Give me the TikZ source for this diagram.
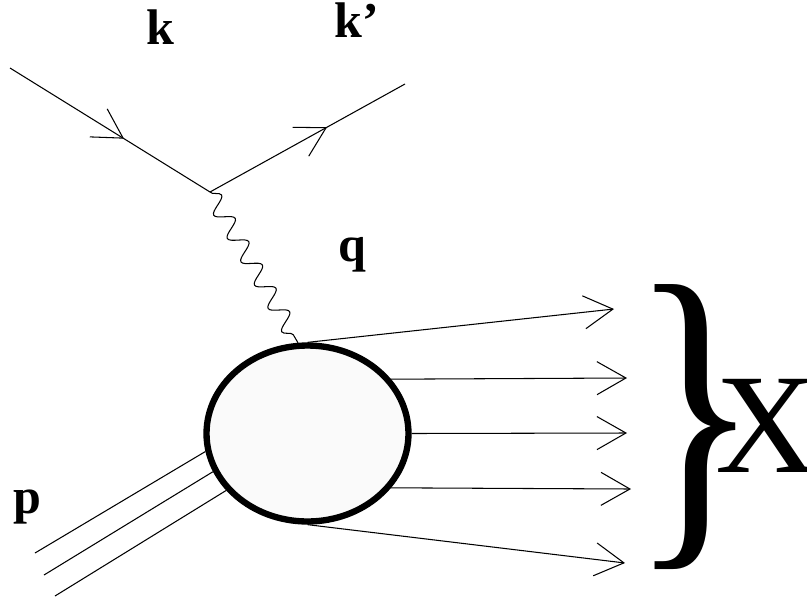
\documentclass[tikz,border=0pt]{standalone}
\usepackage{graphicx}
\usepackage{fontspec}
\setmainfont{Liberation Serif}
\usetikzlibrary{arrows.meta, decorations.markings, decorations.pathmorphing, shapes.geometric}

\begin{document}
\begin{tikzpicture}[x=0.02cm, y=-0.02cm, line width=0.6pt,
  vee/.tip={Straight Barb[length=16.5pt, width=18.8pt]},
  mid arrow/.style={postaction={decorate}, decoration={markings, mark=at position #1 with {\arrow{vee}}}},
  photon/.style={decorate, decoration={snake, segment length=0.54cm, amplitude=0.17cm}},
  lbl/.style={font=\fontsize{28.5}{30}\selectfont\bfseries, inner sep=0pt, anchor=base}]
  \useasboundingbox (0,0) rectangle (807,605);

  % lepton vertex and blob
  \coordinate (v) at (210,192);
  \node[ellipse, draw, line width=3.6pt, fill=black!2, minimum width=4.04cm, minimum height=3.52cm, inner sep=0pt] (blob) at (307.5,433.5) {};

  % electron lines
  \coordinate (kin) at (10,68);
  \coordinate (kout) at (405,84);
  \draw[mid arrow=0.57] (kin) -- (v);
  \draw[mid arrow=0.6] (v) -- (kout);
  \draw[photon] (v) -- (blob.96);

  % proton
  \coordinate (p1) at (35,553);
  \coordinate (p2) at (44,575);
  \coordinate (p3) at (55,596);
  \draw (p1) -- (blob.190);
  \draw (p2) -- (blob.202);
  \draw (p3) -- (blob.215);

  % final state
  \coordinate (x1) at (614,309);
  \coordinate (x2) at (627,378);
  \coordinate (x3) at (627,433);
  \coordinate (x4) at (631,489);
  \coordinate (x5) at (625,563);
  \draw[-vee] (blob.north) -- (x1);
  \draw[-vee] (blob.33) -- (x2);
  \draw[-vee] (blob.east) -- (x3);
  \draw[-vee] (blob.-33) -- (x4);
  \draw[-vee] (blob.south) -- (x5);

  % labels
  \node[lbl] (k) at (160,44) {k};
  \node[lbl] (kp) at (357,37) {k’};
  \node[lbl] (q) at (352,261) {q};
  \node[lbl] (p) at (27,513) {p};
  \node[inner sep=0pt, font=\fontsize{81}{81}\selectfont] (brace) at (695,427) {\scalebox{1.9}[2.42]{\}}};
  \node[inner sep=0pt, anchor=base west, font=\fontsize{81}{81}\selectfont] (X) at (715,472) {X};
\end{tikzpicture}
\end{document}
